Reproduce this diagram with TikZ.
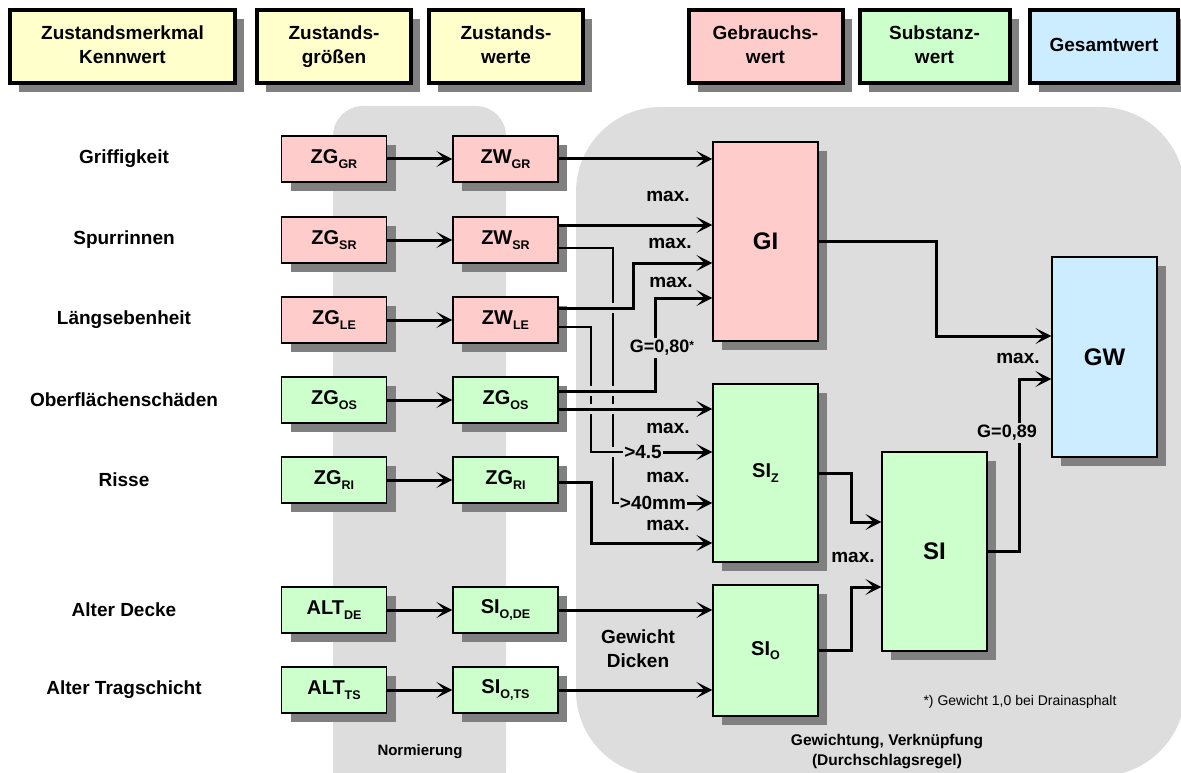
\documentclass[tikz,border=0pt]{standalone}
\usepackage{fontspec}
\setmainfont{Liberation Sans}
\usetikzlibrary{arrows.meta,shadows,calc}
\definecolor{bggray}{HTML}{DDDDDD}
\definecolor{shgray}{HTML}{808080}
\definecolor{cpink}{HTML}{FFCCCC}
\definecolor{cgreen}{HTML}{CCFFCC}
\definecolor{cblue}{HTML}{CCECFF}
\definecolor{cyellow}{HTML}{FFFFCC}
\newcommand\fs[1]{\fontsize{#1}{#1}\selectfont}
\newcommand\sbs[1]{\raisebox{-4.5pt}{\fs{12.5}#1}}
\begin{document}
\begin{tikzpicture}[x=1pt,y=-1pt,
  shd/.style={general shadow={fill=shgray, shadow xshift=9pt, shadow yshift=-9pt}},
  hbox/.style={shd, draw=black, line width=4pt, minimum height=73pt, align=center,
    font=\fontsize{19}{24}\selectfont\bfseries, inner sep=0pt},
  mbox/.style={shd, draw=black, line width=1.3pt, inner sep=0pt, minimum width=105pt,
    font=\fs{20}\bfseries},
  sbox/.style={mbox, minimum height=46pt},
  bigf/.style={font=\fs{24}\bfseries},
  lbl/.style={font=\fs{19}\bfseries, inner sep=1pt},
  note/.style={font=\fs{15}\bfseries, align=center, inner sep=0pt},
  arr/.style={line width=3pt, -{Stealth[length=16pt,width=16pt,inset=8pt]}},
  ln/.style={line width=2.3pt},
  bridge/.style={preaction={draw=bggray, line width=10pt, shorten <=20pt, shorten >=4pt, arrows=-}},
  glbl/.style={font=\fs{18}\bfseries, fill=bggray, inner sep=2pt}
]
\useasboundingbox (0,0) rectangle (1181,773);
% background regions
\fill[bggray, rounded corners=30pt] (333,106) rectangle (506,800);
\fill[bggray, rounded corners=85pt] (576,107) rectangle (1185,776);

% header
\node[hbox, fill=cyellow, minimum width=225pt] (h1) at (122.5,46.5) {\strut Zustandsmerkmal\\Kennwert\strut};
\node[hbox, fill=cyellow, minimum width=154pt] (h2) at (334,46.5) {\strut Zustands-\\größen\strut};
\node[hbox, fill=cyellow, minimum width=154pt] (h3) at (506,46.5) {\strut Zustands-\\werte\strut};
\node[hbox, fill=cpink, minimum width=154pt] (h4) at (765.5,46.5) {\strut Gebrauchs-\\wert\strut};
\node[hbox, fill=cgreen, minimum width=150pt] (h5) at (934.5,46.5) {\strut Substanz-\\wert\strut};
\node[hbox, fill=cblue, minimum width=148pt] (h6) at (1104,46.5) {\strut Gesamtwert};

% row labels
\node[lbl] (rgr) at (124,159) {Griffigkeit};
\node[lbl] (rsr) at (124,240) {Spurrinnen};
\node[lbl] (rle) at (124,320) {Längsebenheit};
\node[lbl] (ros) at (124,400) {Oberflächenschäden};
\node[lbl] (rri) at (124,480) {Risse};
\node[lbl] (rde) at (124,610) {Alter Decke};
\node[lbl] (rts) at (124,690) {Alter Tragschicht};

% column boxes
\node[sbox, fill=cpink] (zggr) at (334,159) {ZG\sbs{GR}};
\node[sbox, fill=cpink] (zwgr) at (505.5,159) {ZW\sbs{GR}};
\node[sbox, fill=cpink] (zgsr) at (334,240) {ZG\sbs{SR}};
\node[sbox, fill=cpink] (zwsr) at (505.5,240) {ZW\sbs{SR}};
\node[sbox, fill=cpink] (zgle) at (334,320) {ZG\sbs{LE}};
\node[sbox, fill=cpink] (zwle) at (505.5,320) {ZW\sbs{LE}};
\node[sbox, fill=cgreen] (zgos) at (334,400) {ZG\sbs{OS}};
\node[sbox, fill=cgreen] (zwos) at (505.5,400) {ZG\sbs{OS}};
\node[sbox, fill=cgreen] (zgri) at (334,480) {ZG\sbs{RI}};
\node[sbox, fill=cgreen] (zwri) at (505.5,480) {ZG\sbs{RI}};
\node[sbox, fill=cgreen] (altde) at (334,610) {ALT\sbs{DE}};
\node[sbox, fill=cgreen] (sode) at (505.5,610) {SI\sbs{O,DE}};
\node[sbox, fill=cgreen] (altts) at (334,690) {ALT\sbs{TS}};
\node[sbox, fill=cgreen] (sots) at (505.5,690) {SI\sbs{O,TS}};

% aggregate boxes
\node[mbox, bigf, fill=cpink, minimum height=199pt] (gi) at (765.5,241.5) {GI};
\node[mbox, fill=cgreen, minimum height=178pt] (siz) at (765.5,473) {SI\sbs{Z}};
\node[mbox, fill=cgreen, minimum height=131pt] (sio) at (765.5,650.5) {SI\sbs{O}};
\node[mbox, bigf, fill=cgreen, minimum height=199pt] (si) at (934.5,551.5) {SI};
\node[mbox, bigf, fill=cblue, minimum height=200pt] (gw) at (1104.5,357) {GW};

% threshold labels
\node[lbl] (l45) at (643,452) {>4.5};
\node[lbl] (l40) at (653,503) {>40mm};

% helper coordinates
\coordinate (xa) at (591,0);
\coordinate (xb) at (613,0);
\coordinate (xc) at (633,0);
\coordinate (xd) at (655,0);
\coordinate (xe) at (936,0);
\coordinate (xf) at (1019,0);
\coordinate (xg) at (851,0);
\coordinate (gi3) at ([yshift=-21.5pt]gi.west);
\coordinate (gi4) at ([yshift=-56.5pt]gi.west);
\coordinate (siz4) at ([yshift=-70pt]siz.west);
\coordinate (gw1) at ([yshift=21pt]gw.west);
\coordinate (gw2) at ([yshift=-22pt]gw.west);
\coordinate (si1) at ([yshift=29.5pt]si.west);
\coordinate (si2) at ([yshift=-35.5pt]si.west);

% normalisation arrows
\foreach \a/\b in {zggr/zwgr, zgsr/zwsr, zgle/zwle, zgos/zwos, zgri/zwri, altde/sode, altts/sots}
  \draw[arr] (\a.east) -- (\b.west);

% into GI
\draw[arr] (zwgr.east) -- (zwgr.east -| gi.west);
\draw[arr] ([yshift=15pt]zwsr.east) -- ([yshift=15pt]zwsr.east -| gi.west);
\draw[ln] ([yshift=-8pt]zwsr.east) -| (xb |- l40.west) -- (l40.west);
\draw[arr, bridge] ([yshift=12pt]zwle.east) -| (xc |- gi3) -- (gi3);
\draw[ln, bridge] ([yshift=-7pt]zwle.east) -| (xa |- l45.west) -- (l45.west);
\draw[arr, bridge] ([yshift=9pt]zwos.east) -| (xd |- gi4) -- (gi4);
\draw[arr, bridge] ([yshift=-9pt]zwos.east) -- ([yshift=-9pt]zwos.east -| siz.west);
\draw[arr] (l45.east) -- (l45.east -| siz.west);
\draw[arr] (l40.east) -- (l40.east -| siz.west);
\draw[arr] ([yshift=-2pt]zwri.east) -| (xa |- siz4) -- (siz4);
\draw[arr] (sode.east) -- (sode.east -| sio.west);
\draw[arr] (sots.east) -- (sots.east -| sio.west);

% onwards
\draw[arr] (gi.east) -| (xe |- gw1) -- (gw1);
\draw[arr] (si.east) -| (xf |- gw2) -- (gw2);
\draw[arr] (siz.east) -| (xg |- si1) -- (si1);
\draw[arr] (sio.east) -| (xg |- si2) -- (si2);

% weight labels
\node[glbl] (g80) at (662,348) {G=0,80\raisebox{3pt}{\fs{12}*}};
\node[glbl] (g89) at (1007,433) {G=0,89};

% max labels
\node[lbl] (m1) at (668,196) {max.};
\node[lbl] (m2) at (670,243) {max.};
\node[lbl] (m3) at (671,282) {max.};
\node[lbl] (m4) at (668,428) {max.};
\node[lbl] (m5) at (668,477) {max.};
\node[lbl] (m6) at (668,525) {max.};
\node[lbl] (m7) at (853,557) {max.};
\node[lbl] (m8) at (1018,358) {max.};
\node[lbl, align=center, font=\fontsize{19}{24}\selectfont\bfseries] (gd) at (638,649) {Gewicht\\Dicken};

% notes
\node[note] (nnorm) at (420,752) {Normierung};
\node[note, font=\fontsize{15.5}{20}\selectfont\bfseries] (ngew) at (887,752) {Gewichtung, Verknüpfung\\(Durchschlagsregel)};
\node[note, font=\fs{14}] (nfoot) at (1020,702) {*) Gewicht 1,0 bei Drainasphalt};
\end{tikzpicture}
\end{document}
